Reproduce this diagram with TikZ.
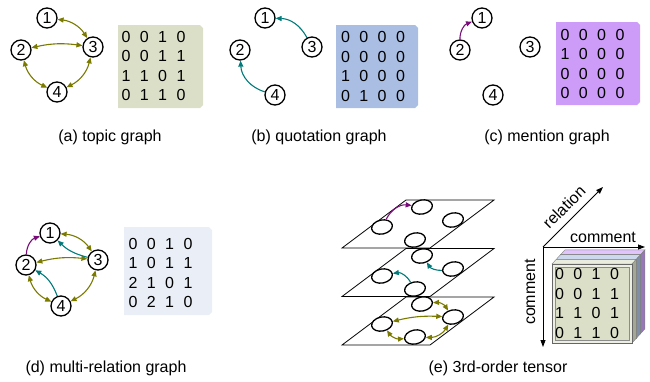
\documentclass[tikz,border=0pt]{standalone}
\usepackage{fontspec}
\setmainfont{Liberation Sans}
\usepackage{xcolor}
\usetikzlibrary{arrows.meta,positioning,matrix,shapes.geometric}

\definecolor{topicbg}{HTML}{DCDFC8}
\definecolor{quotebg}{HTML}{A9BEE2}
\definecolor{mentionbg}{HTML}{CC9CF8}
\definecolor{multibg}{HTML}{EAEFF7}
\definecolor{olivearc}{HTML}{7A7A00}
\definecolor{tealarc}{HTML}{007A7A}
\definecolor{purparc}{HTML}{7A0C7A}

\begin{document}
\begin{tikzpicture}[x=1pt, y=-1pt, font=\fontsize{16}{19}\selectfont,
    vert/.style={circle, draw, fill=white, line width=1.3pt, minimum size=20pt, inner sep=0pt},
    cmt/.style={ellipse, draw, fill=white, line width=1.3pt, minimum width=21pt, minimum height=14pt, inner sep=0pt, rotate=12},
    tip/.tip={Triangle[length=6pt,width=5pt]},
    topic/.style={olivearc, line width=1.1pt, tip-tip},
    quote/.style={tealarc, line width=1.1pt, -tip},
    mention/.style={purparc, line width=1.1pt, -tip},
    axis/.style={line width=0.8pt, -{Triangle[length=7pt,width=5pt]}},
    digits/.style={matrix of nodes, nodes={minimum width=18.3pt, minimum height=19.5pt, inner sep=0pt}, column sep=0pt, row sep=0pt}]

\useasboundingbox (0,0) rectangle (650,381);

% (a) topic graph
\node[vert] (a1) at (47,18) {1};
\node[vert] (a2) at (21,50) {2};
\node[vert] (a3) at (93,47) {3};
\node[vert] (a4) at (57,92) {4};
\path[topic]
    (a1) edge[bend left=25] (a3)
    (a2) edge[bend left=10] (a3)
    (a2) edge[bend right=25] (a4)
    (a4) edge[bend right=25] (a3);
\fill[topicbg] (118,25) -- (200,25) -- (203,28) -- (203,105) -- (200,108) -- (118,108) -- cycle;
\matrix (ma) [digits] at (153.5,66) {
    0 & 0 & 1 & 0 \\
    0 & 0 & 1 & 1 \\
    1 & 1 & 0 & 1 \\
    0 & 1 & 1 & 0 \\
};
\node (capa) at (110,137) {(a) topic graph};

% (b) quotation graph
\node[vert] (b1) at (265,18) {1};
\node[vert] (b2) at (240,50) {2};
\node[vert] (b3) at (312,47) {3};
\node[vert] (b4) at (275,95) {4};
\path[quote]
    (b3) edge[bend right=30] (b1)
    (b4) edge[bend left=35] (b2);
\fill[quotebg] (336,25) -- (415,25) -- (418,28) -- (418,105) -- (415,108) -- (336,108) -- cycle;
\matrix (mb) [digits] at (373,66.5) {
    0 & 0 & 0 & 0 \\
    0 & 0 & 0 & 0 \\
    1 & 0 & 0 & 0 \\
    0 & 1 & 0 & 0 \\
};
\node (capb) at (319,137) {(b) quotation graph};

% (c) mention graph
\node[vert] (c1) at (482,18) {1};
\node[vert] (c2) at (460,50) {2};
\node[vert] (c3) at (530,47) {3};
\node[vert] (c4) at (493,95) {4};
\path[mention]
    (c2) edge[bend left=35] (c1);
\fill[mentionbg] (556,22) -- (637,22) -- (640,25) -- (640,102) -- (637,105) -- (556,105) -- cycle;
\matrix (mc) [digits] at (592.5,64) {
    0 & 0 & 0 & 0 \\
    1 & 0 & 0 & 0 \\
    0 & 0 & 0 & 0 \\
    0 & 0 & 0 & 0 \\
};
\node (capc) at (547,137) {(c) mention graph};

% (d) multi-relation graph
\node[vert] (d1) at (50,233) {1};
\node[vert] (d2) at (26,265) {2};
\node[vert] (d3) at (98,260) {3};
\node[vert] (d4) at (61,306) {4};
\path[topic]
    (d1) edge[bend left=25] (d3)
    (d2) edge[bend left=10] (d3)
    (d2) edge[bend right=25] (d4)
    (d4) edge[bend right=25] (d3);
\path[quote]
    (d3) edge[bend left=15] (d1)
    (d4) edge[bend right=20] (d2);
\path[mention]
    (d2) edge[bend left=35] (d1);
\fill[multibg] (124,227) -- (209,227) -- (212,230) -- (212,312) -- (209,315) -- (124,315) -- cycle;
\matrix (md) [digits] at (160.5,273) {
    0 & 0 & 1 & 0 \\
    1 & 0 & 1 & 1 \\
    2 & 1 & 0 & 1 \\
    0 & 2 & 1 & 0 \\
};
\node (capd) at (106,368) {(d) multi-relation graph};

% (e) 3rd-order tensor: stacked layers
\foreach \t in {200,248.5,297}
    \draw[line width=0.8pt] (406,\t) -- (494,\t) -- (430,\t+48) -- (342,\t+48) -- cycle;
\foreach \b/\l in {248/m,297/q,345/t} {
    \node[cmt] (\l1) at (422,\b-41) {};
    \node[cmt] (\l2) at (382,\b-21) {};
    \node[cmt] (\l3) at (453,\b-28) {};
    \node[cmt] (\l4) at (415,\b-8) {};
}
\path[mention]
    (m2) edge[bend left=35] (m1);
\path[quote]
    (q3) edge[bend left=30] (q1)
    (q4) edge[bend right=35] (q2);
\path[topic]
    (t1) edge[bend left=30] (t3)
    (t2) edge[bend left=8] (t3)
    (t2) edge[bend right=30] (t4)
    (t4) edge[bend right=30] (t3);

% tensor cube
\foreach \k/\col in {2/mentionbg,1/quotebg,0/topicbg} {
  \begin{scope}[shift={(4.3*\k,-4.7*\k)}]
    \fill[\col] (552,264) rectangle (632,343);
    \filldraw[\col!60, draw=gray] (552,264) -- ++(4.3,-4.7) -- (636.3,259.3) -- (632,264) -- cycle;
    \filldraw[\col!75!black, draw=gray] (632,264) -- (636.3,259.3) -- (636.3,338.3) -- (632,343) -- cycle;
    \draw[gray] (552,264) rectangle (632,343);
  \end{scope}
}
\filldraw[topicbg!50, draw=black!60] (552,264) rectangle (632,343);
\filldraw[topicbg, draw=black!45, line width=0.5pt] (555,267) rectangle (629,340);
\matrix (me) [digits] at (587,303.5) {
    0 & 0 & 1 & 0 \\
    0 & 0 & 1 & 1 \\
    1 & 1 & 0 & 1 \\
    0 & 1 & 1 & 0 \\
};
\coordinate (o) at (543,247);
\coordinate (relend) at (603,187);
\coordinate (colend) at (645,247);
\coordinate (rowend) at (543,347);
\draw[axis] (o) -- (relend);
\draw[axis] (o) -- (colend);
\draw[axis] (o) -- (rowend);
\node[rotate=45] (rellbl) at (564,207) {relation};
\node (collbl) at (603,237) {comment};
\node[rotate=90] (rowlbl) at (530,292) {comment};
\node (cape) at (498,368) {(e) 3rd-order tensor};

\end{tikzpicture}
\end{document}
